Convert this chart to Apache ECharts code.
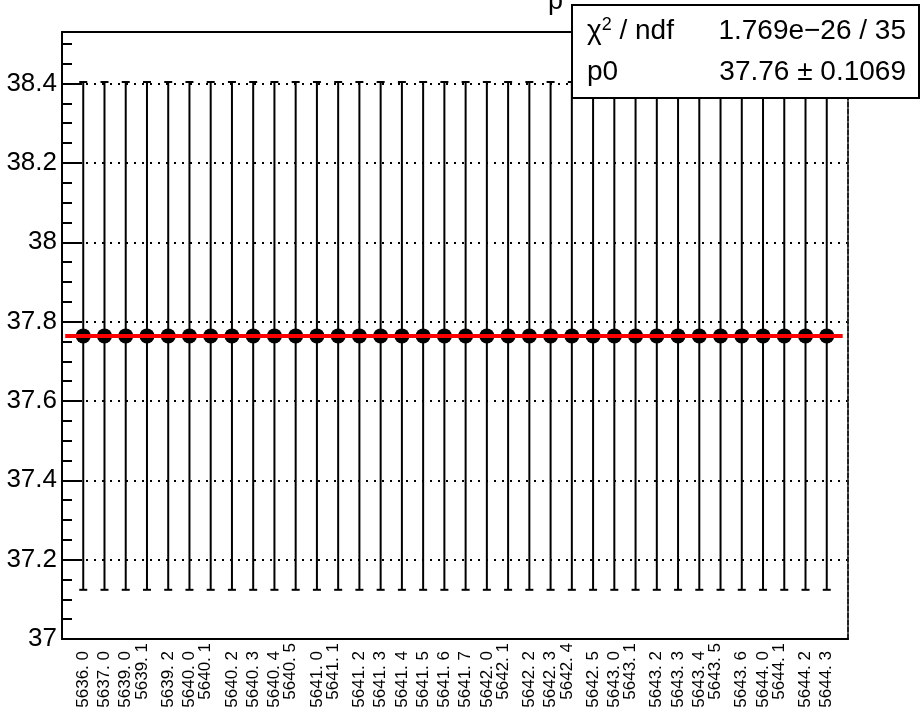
<!DOCTYPE html>
<html>
<head>
<meta charset="utf-8">
<script src="https://cdn.jsdelivr.net/npm/echarts@6/dist/echarts.min.js"></script>
<style>
html,body{margin:0;padding:0;background:#fff;}
#c{width:923px;height:711px;}
</style>
</head>
<body>
<div id="c"></div>
<script>
// ---- data ----
const categories = ['5636. 0','5637. 0','5639. 0','5639. 1','5639. 2','5640. 0','5640. 1','5640. 2','5640. 3','5640. 4','5640. 5','5641. 0','5641. 1','5641. 2','5641. 3','5641. 4','5641. 5','5641. 6','5641. 7','5642. 0','5642. 1','5642. 2','5642. 3','5642. 4','5642. 5','5643. 0','5643. 1','5643. 2','5643. 3','5643. 4','5643. 5','5643. 6','5644. 0','5644. 1','5644. 2','5644. 3'];
const values = [37.764,37.764,37.764,37.764,37.764,37.764,37.764,37.764,37.764,37.764,37.764,37.764,37.764,37.764,37.764,37.764,37.764,37.764,37.764,37.764,37.764,37.764,37.764,37.764,37.764,37.764,37.764,37.764,37.764,37.764,37.764,37.764,37.764,37.764,37.764,37.764];
const errors = [0.64,0.64,0.64,0.64,0.64,0.64,0.64,0.64,0.64,0.64,0.64,0.64,0.64,0.64,0.64,0.64,0.64,0.64,0.64,0.64,0.64,0.64,0.64,0.64,0.64,0.64,0.64,0.64,0.64,0.64,0.64,0.64,0.64,0.64,0.64,0.64];
const fitValue = 37.764;
const fitRange = [-0.85, 35.75];
const yTicks = [37, 37.2, 37.4, 37.6, 37.8, 38, 38.2, 38.4];
const statsNames = ['{c|\u03c7}{s|2}{c| / ndf}', 'p0'];
const statsValues = ['1.769e\u221226 / 35', '37.76 \u00b1 0.1069'];
const titleText = 'p';
// labels drawn slightly displaced in the reference
const displacedLabels = [3, 6, 10, 12, 20, 23, 26, 30, 33];

const FONT = '"Liberation Sans", Arial, Helvetica, sans-serif';
const chart = echarts.init(document.getElementById('c'), null, {renderer: 'canvas'});

const errData = values.map((v, i) => [i, v - errors[i], v + errors[i]]);
const ptData = values.map((v, i) => [i, v]);

const X_MIN = -1, X_MAX = 36, Y_MIN = 37, Y_MAX = 38.53;

chart.setOption({
  animation: false,
  backgroundColor: '#fff',
  grid: {left: 62, right: 75, top: 32, bottom: 72, containLabel: false},
  xAxis: [
    {
      type: 'value', min: X_MIN, max: X_MAX, interval: 1, position: 'bottom',
      axisLine: {show: true, onZero: false, lineStyle: {color: '#000', width: 2}},
      axisTick: {show: false},
      splitLine: {show: false},
      axisLabel: {
        rotate: 90, margin: 3, color: '#000', fontFamily: FONT, fontSize: 17,
        formatter: function (v) {
          const i = Math.round(v);
          if (i < 0 || i >= categories.length) return '';
          return displacedLabels.indexOf(i) >= 0 ? '{b|' + categories[i] + '}' : '{a|' + categories[i] + '}';
        },
        rich: {
          a: {fontFamily: FONT, fontSize: 17, color: '#000', padding: [0, 9, 0, 0]},
          b: {fontFamily: FONT, fontSize: 17, color: '#000', padding: [0, 1, 10, 0]}
        }
      }
    },
    {
      type: 'value', min: X_MIN, max: X_MAX, position: 'top',
      axisLine: {show: true, onZero: false, lineStyle: {color: '#000', width: 2}},
      axisTick: {show: false}, axisLabel: {show: false}, splitLine: {show: false}
    }
  ],
  yAxis: [
    {
      type: 'value', min: Y_MIN, max: Y_MAX, interval: 0.2, position: 'left', offset: 0,
      axisLine: {show: true, onZero: false, lineStyle: {color: '#000', width: 2}},
      axisTick: {show: true, inside: true, length: 20, lineStyle: {color: '#000', width: 2}},
      axisLabel: {
        color: '#000', fontFamily: FONT, fontSize: 26, margin: 5,
        formatter: function (v) {
          const r = Math.round(v * 10) / 10;
          return yTicks.indexOf(r) >= 0 && Math.abs(r - v) < 1e-6 ? String(r) : '';
        }
      },
      splitLine: {show: true, lineStyle: {color: '#000', width: 2, type: [2, 6]}}
    },
    {
      type: 'value', min: Y_MIN, max: Y_MAX, interval: 0.05, position: 'left', offset: 0,
      axisLine: {show: false, onZero: false},
      axisTick: {show: true, inside: true, length: 10, lineStyle: {color: '#000', width: 2}},
      axisLabel: {show: false}, splitLine: {show: false}
    },
    {
      type: 'value', min: Y_MIN, max: Y_MAX, position: 'right', offset: 0,
      axisLine: {show: true, onZero: false, lineStyle: {color: '#222', width: 2, type: [5, 2]}},
      axisTick: {show: false}, axisLabel: {show: false}, splitLine: {show: false}
    }
  ],
  series: [
    {
      type: 'custom', name: 'errors', xAxisIndex: 0, yAxisIndex: 0,
      data: errData, z: 2,
      renderItem: function (params, api) {
        const x = api.value(0);
        const lo = api.coord([x, api.value(1)]);
        const hi = api.coord([x, api.value(2)]);
        const cw = 4;
        const st = {stroke: '#000', lineWidth: 2};
        return {
          type: 'group',
          children: [
            {type: 'line', shape: {x1: lo[0], y1: lo[1], x2: hi[0], y2: hi[1]}, style: st},
            {type: 'line', shape: {x1: lo[0] - cw, y1: lo[1], x2: lo[0] + cw, y2: lo[1]}, style: st},
            {type: 'line', shape: {x1: hi[0] - cw, y1: hi[1], x2: hi[0] + cw, y2: hi[1]}, style: st}
          ]
        };
      }
    },
    {
      type: 'scatter', name: 'points', xAxisIndex: 0, yAxisIndex: 0,
      data: ptData, symbol: 'circle', symbolSize: 15, z: 3,
      itemStyle: {color: '#000', opacity: 1}
    },
    {
      type: 'line', name: 'fit', xAxisIndex: 0, yAxisIndex: 0,
      data: [[fitRange[0], fitValue], [fitRange[1], fitValue]],
      symbol: 'none', z: 4,
      lineStyle: {color: '#ff0000', width: 4}
    }
  ],
  graphic: [
    {type: 'text', left: 548, top: -12, z: 50,
     style: {text: titleText, font: '27px ' + FONT, fill: '#000'}},
    {type: 'rect', z: 100, shape: {x: 572, y: 5, width: 347, height: 93},
     style: {fill: '#fff', stroke: '#000', lineWidth: 2}},
    {type: 'text', z: 101, x: 587, y: 31,
     style: {text: statsNames[0], font: '28px ' + FONT, fill: '#000', textAlign: 'left', textVerticalAlign: 'middle', align: 'left', verticalAlign: 'middle',
       rich: {c: {font: '28px ' + FONT, fill: '#000'}, s: {font: '18px ' + FONT, fill: '#000', padding: [0, 0, 12, 0]}}}},
    {type: 'text', z: 101, x: 906, y: 31,
     style: {text: statsValues[0], font: '28px ' + FONT, fill: '#000', textAlign: 'right', textVerticalAlign: 'middle', align: 'right', verticalAlign: 'middle'}},
    {type: 'text', z: 101, x: 587, y: 72,
     style: {text: statsNames[1], font: '28px ' + FONT, fill: '#000', textAlign: 'left', textVerticalAlign: 'middle', align: 'left', verticalAlign: 'middle'}},
    {type: 'text', z: 101, x: 906, y: 72,
     style: {text: statsValues[1], font: '28px ' + FONT, fill: '#000', textAlign: 'right', textVerticalAlign: 'middle', align: 'right', verticalAlign: 'middle'}}
  ]
});
</script>
</body>
</html>
